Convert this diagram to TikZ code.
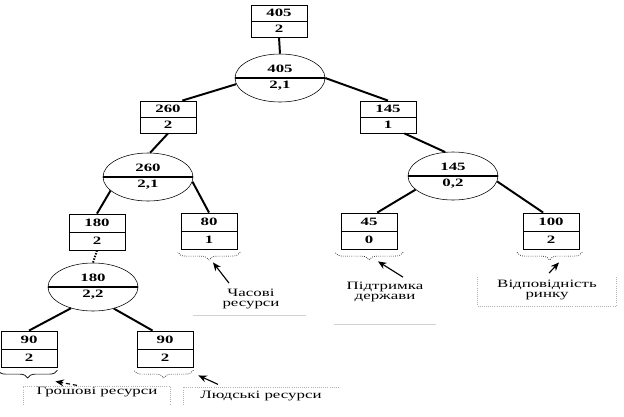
\documentclass[tikz,border=0pt]{standalone}
\usepackage{fontspec}
\setmainfont{Liberation Serif}[FakeStretch=1.5]
\usepackage{tikz}
\usetikzlibrary{shapes, arrows.meta, positioning, calc, decorations.pathreplacing}

\tikzset{
  valbox/.style={draw, line width=0.6pt, minimum width=1.4cm, minimum height=0.8cm, inner sep=0pt, align=center,
    font=\fontsize{8}{11.4}\selectfont\bfseries,
    path picture={\draw[line width=0.6pt] (path picture bounding box.west) -- (path picture bounding box.east);}},
  tallbox/.style={valbox, minimum height=0.9cm, font=\fontsize{8}{12.8}\selectfont\bfseries},
  splitnode/.style={draw, ellipse, line width=0.4pt, minimum width=2.25cm, minimum height=1.2cm, inner sep=0pt, align=center,
    font=\fontsize{8}{11.5}\selectfont\bfseries,
    path picture={\draw[line width=0.9pt] (path picture bounding box.west) -- (path picture bounding box.east);}},
  branch/.style={line width=1.4pt},
  bracket/.style={decorate, decoration={brace, amplitude=5.5pt}, densely dotted, line width=0.5pt},
  pointer/.style={-{Stealth[length=6pt, width=5pt]}, line width=0.8pt},
  note/.style={font=\fontsize{8}{7.5}\selectfont, align=center, inner sep=1pt},
  boxframe/.style={gray!60, densely dotted, line width=0.5pt},
  greyline/.style={gray!35, line width=0.6pt}
}

\begin{document}
\begin{tikzpicture}[x=0.025cm, y=-0.025cm]
  \useasboundingbox (0,0) rectangle (624,416);

  % Root
  \node[valbox] (b405) at (279,21) {405\\2};
  \node[splitnode] (e405) at (280,78) {405\\2,1};

  % Left branch
  \node[valbox] (b260) at (168,117) {260\\2};
  \node[splitnode] (e260) at (148,177) {260\\2,1};
  \node[tallbox] (b180) at (97,232) {180\\2};
  \node[tallbox] (b80) at (209,231) {80\\1};
  \node[splitnode] (e180) at (93,287) {180\\2,2};
  \node[tallbox] (b90a) at (29,349) {90\\2};
  \node[tallbox] (b90b) at (165,349) {90\\2};

  % Right branch
  \node[valbox] (b145) at (388,117) {145\\1};
  \node[splitnode] (e145) at (453,176) {145\\0,2};
  \node[tallbox] (b45) at (369,231) {45\\0};
  \node[tallbox] (b100) at (551,231) {100\\2};

  % Connectors
  \draw[branch] (b405.south) -- (e405.north);
  \draw[branch] (e405.188) -- (b260.49);
  \draw[branch] (e405.east) -- (b145.north);
  \draw[branch] (b260.south) -- (e260.85);
  \draw[branch] (e260.200) -- (b180.north);
  \draw[branch] (e260.354) -- (b80.north);
  \draw[branch, dash pattern=on 1pt off 1pt] (b180.south) -- (e180.north);
  \draw[branch] (e180.224) -- (b90a.north);
  \draw[branch] (e180.314) -- (b90b.124);
  \draw[branch] (b145.315) -- (e145.108);
  \draw[branch] (e145.200) -- (b45.66);
  \draw[branch] (e145.353) -- (b100.113);

  % Braces
  \draw[bracket] ([shift={(2pt,-2pt)}]b80.south east) -- ([shift={(-2pt,-2pt)}]b80.south west);
  \draw[bracket, solid] ([shift={(0pt,-2pt)}]b90a.south east) -- ([shift={(-2pt,-2pt)}]b90a.south west);
  \draw[bracket] ([shift={(0pt,-2pt)}]b90b.south east) -- ([shift={(-2pt,-2pt)}]b90b.south west);
  \draw[bracket] ([shift={(4pt,-2pt)}]b45.south east) -- ([shift={(-4pt,-2pt)}]b45.south west);
  \draw[bracket] ([shift={(2pt,-2pt)}]b100.south east) -- ([shift={(-4pt,-2pt)}]b100.south west);

  % Labels
  \node[note] (l80) at (251,299) {Часові\\ресурси};
  \node[note] (l90a) at (97,392) {Грошові ресурси};
  \node[note] (l90b) at (261,396) {Людські ресурси};
  \node[note] (l45) at (385,292) {Підтримка\\держави};
  \node[note] (l100) at (547,290) {Відповідність\\ринку};

  \coordinate (p80) at ($(b80.south)+(4,13)$);
  \coordinate (p90a) at ($(b90a.south east)+(-2,14)$);
  \coordinate (p90b) at ($(b90b.south east)+(5,8)$);
  \coordinate (p45) at ($(b45.south)+(9,12)$);
  \coordinate (p100) at ($(b100.south)+(8,13)$);

  \draw[pointer] ($(l80.north)+(-22,-4)$) -- (p80);
  \draw[pointer, densely dashed] ($(l90a.north)+(-20,0)$) -- (p90a);
  \draw[pointer] ($(l90b.north)+(-43,-5)$) -- (p90b);
  \draw[pointer] ($(l45.north)+(18,-3)$) -- (p45);
  \draw[pointer] ($(l100.north)+(2,-5)$) -- (p100);

  % Text box frames
  \draw[boxframe] (23,405) -- (23,386) -- (170,386) -- (170,405);
  \draw[boxframe] (183,405) -- (183,387) -- (340,387);
  \draw[boxframe] (477,277) -- (477,306) -- (616,306) -- (616,277);
  \draw[greyline] (193,315) -- (306,315);
  \draw[greyline] (334,324) -- (436,324);
\end{tikzpicture}
\end{document}
